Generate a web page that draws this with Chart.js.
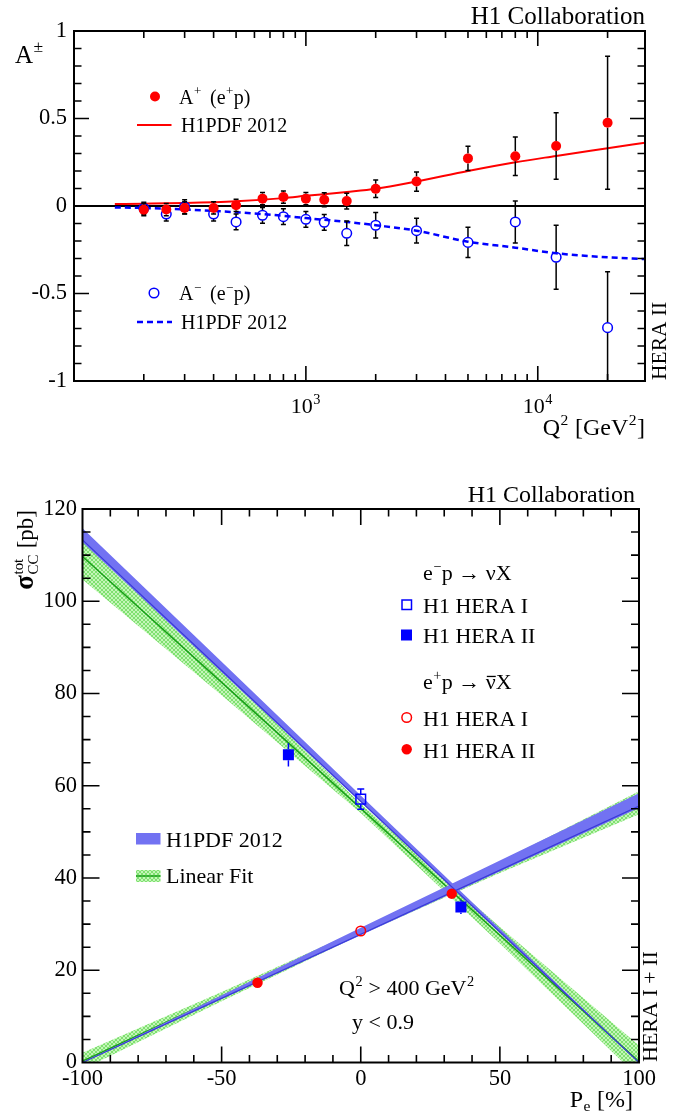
<!DOCTYPE html>
<html><head><meta charset="utf-8">
<script src="https://cdn.jsdelivr.net/npm/chart.js@4/dist/chart.umd.min.js"></script>
<style>
html,body{margin:0;padding:0;background:#fff;overflow:hidden;}
#w1{position:absolute;left:0;top:0;width:677px;height:460px;}
#w2{position:absolute;left:0;top:460px;width:677px;height:656px;}
</style></head><body>
<div id="w1"><canvas id="c1"></canvas></div>
<div id="w2"><canvas id="c2"></canvas></div>
<script>
// ---------- Top panel data: charge asymmetry A± vs Q² ----------
const Q2 = [200,250,300,400,500,650,800,1000,1200,1500,2000,3000,5000,8000,12000,20000];
const A_PLUS = [-0.021,-0.02,-0.011,-0.011,0.004,0.042,0.051,0.042,0.036,0.028,0.098,0.14,0.272,0.284,0.343,0.476];
const A_PLUS_ERR = [0.035,0.035,0.035,0.035,0.035,0.035,0.035,0.035,0.04,0.045,0.05,0.055,0.069,0.11,0.19,0.38];
const A_MINUS = [-0.013,-0.046,-0.004,-0.046,-0.091,-0.053,-0.061,-0.076,-0.093,-0.156,-0.11,-0.141,-0.208,-0.091,-0.293,-0.695];
const A_MINUS_ERR = [0.035,0.04,0.04,0.04,0.045,0.045,0.045,0.045,0.045,0.07,0.073,0.071,0.086,0.12,0.183,0.32];
const PDF_Q2 = [150,200,300,500,800,1000,1500,2000,3000,5000,8000,12000,20000,29000];
const PDF_PLUS = [0.011,0.013,0.017,0.027,0.045,0.058,0.08,0.098,0.14,0.2,0.25,0.286,0.33,0.362];
const PDF_MINUS = [-0.008,-0.011,-0.02,-0.036,-0.056,-0.069,-0.091,-0.11,-0.141,-0.204,-0.238,-0.27,-0.293,-0.303];
const X_LABEL_DECADES = [1000, 10000];

// ---------- Bottom panel data: sigma_CC^tot vs P_e ----------
const POL = [-100,-50,0,50,100];
const EM_PDF_LO = [112.8,84.6,56.4,28.2,0];
const EM_PDF_MID = [113.3,85.0,56.6,28.3,0];
const EM_PDF_HI = [115.8,86.9,57.9,29.0,0];
const EP_PDF_LO = [0,13.8,27.6,41.4,55.2];
const EP_PDF_MID = [0,13.9,27.8,41.7,55.6];
const EP_PDF_HI = [0,14.6,29.2,43.8,58.4];
const EM_FIT_LO = [104.7,79.6,54.1,25.8,-3.3];
const EM_FIT_MID = [109.7,82.4,55.1,27.6,0.2];
const EM_FIT_HI = [114.7,85.2,56.1,29.4,3.7];
const EP_FIT_LO = [-1.5,13.3,27.7,41.1,53.8];
const EP_FIT_MID = [0.3,14.3,28.3,42.3,56.3];
const EP_FIT_HI = [2.1,15.3,28.9,43.5,58.8];
const EM_H1_P = [0], EM_H1_S = [57.1], EM_H1_E = [2.2];
const EM_H2_P = [-26.0, 36.0], EM_H2_S = [66.7, 33.7], EM_H2_E = [2.5, 1.5];
const EP_H1_P = [0], EP_H1_S = [28.5], EP_H1_E = [0.6];
const EP_H2_P = [-37.1, 32.7], EP_H2_S = [17.3, 36.6], EP_H2_E = [0.7, 1.0];

const SERIF = '"Liberation Serif","Times New Roman",Times,serif';
function setFont(ctx, sz, bold){ ctx.font = (bold ? 'bold ' : '') + sz + 'px ' + SERIF; }
function segW(ctx, p, sz){
  const k = p[1] || 'n';
  if (k === 'n' || k === 'bar' || k === 'b'){ setFont(ctx, p[2] || sz, k === 'b'); return ctx.measureText(p[0]).width; }
  if (k === 'sup' || k === 'sub'){ setFont(ctx, sz*0.65); return ctx.measureText(p[0]).width + 1; }
  if (k === 'stack'){ setFont(ctx, sz*0.65); return Math.max(ctx.measureText(p[0]).width, ctx.measureText(p[2]).width) + 1; }
  return 0;
}
function drawRich(ctx, parts, x, y, sz, align){
  let w = 0; for (const p of parts) w += segW(ctx, p, sz);
  if (align === 'right') x -= w; else if (align === 'center') x -= w/2;
  ctx.textAlign = 'left'; ctx.textBaseline = 'alphabetic'; ctx.fillStyle = '#000';
  for (const p of parts){
    const k = p[1] || 'n'; const sw = segW(ctx, p, sz);
    if (k === 'n' || k === 'b') ctx.fillText(p[0], x, y);
    else if (k === 'bar'){ ctx.fillText(p[0], x, y); ctx.fillRect(x+1, y - sz*0.6, sw-1, 1.3); }
    else if (k === 'sup') ctx.fillText(p[0], x+0.5, y - sz*0.42);
    else if (k === 'sub') ctx.fillText(p[0], x+0.5, y + sz*0.18);
    else if (k === 'stack'){ ctx.fillText(p[0], x+0.5, y - sz*0.42); ctx.fillText(p[2], x+0.5, y + sz*0.22); }
    x += sw;
  }
}
function drawErr(chart, ds, color, gap, cap){
  const ctx = chart.ctx, xs = chart.scales.x, ys = chart.scales.y, a = chart.chartArea;
  ctx.save(); ctx.beginPath(); ctx.rect(a.left, a.top, a.right-a.left, a.bottom-a.top); ctx.clip();
  ctx.strokeStyle = color; ctx.lineWidth = 1.5;
  ds.data.forEach((d, i) => {
    const e = ds.err[i];
    const px = xs.getPixelForValue(d.x), py = ys.getPixelForValue(d.y);
    const pt = ys.getPixelForValue(d.y + e), pb = ys.getPixelForValue(d.y - e);
    ctx.beginPath();
    if (pt < py - gap){ ctx.moveTo(px, py - gap); ctx.lineTo(px, pt); }
    if (pb > py + gap){ ctx.moveTo(px, py + gap); ctx.lineTo(px, pb); }
    if (cap){ ctx.moveTo(px-cap, pt); ctx.lineTo(px+cap, pt); ctx.moveTo(px-cap, pb); ctx.lineTo(px+cap, pb); }
    ctx.stroke();
  });
  ctx.restore();
}
function drawFrameTicks(chart, isXTick, isXMajor, isYMajor, L){
  const ctx = chart.ctx, a = chart.chartArea, xs = chart.scales.x, ys = chart.scales.y;
  ctx.save(); ctx.strokeStyle = '#000'; ctx.lineWidth = 1.6;
  ctx.beginPath();
  for (const t of xs.ticks){
    if (!isXTick(t.value)) continue;
    const px = xs.getPixelForValue(t.value);
    if (px < a.left + 1 || px > a.right - 1) continue;
    const len = isXMajor(t.value) ? L.xMaj : L.xMin;
    ctx.moveTo(px, a.bottom); ctx.lineTo(px, a.bottom - len);
    ctx.moveTo(px, a.top); ctx.lineTo(px, a.top + len);
  }
  for (const t of ys.ticks){
    const py = ys.getPixelForValue(t.value);
    if (py < a.top + 1 || py > a.bottom - 1) continue;
    const len = isYMajor(t.value) ? L.yMaj : L.yMin;
    ctx.moveTo(a.left, py); ctx.lineTo(a.left + len, py);
    ctx.moveTo(a.right, py); ctx.lineTo(a.right - len, py);
  }
  ctx.stroke();
  ctx.lineWidth = 2;
  ctx.strokeRect(a.left, a.top, a.right - a.left, a.bottom - a.top);
  ctx.restore();
}
function isMult(v, m){ return Math.abs(v/m - Math.round(v/m)) < 1e-6; }
function isLogTick(v){ const e = Math.pow(10, Math.floor(Math.log10(v) + 1e-9)); return isMult(v, e); }

// ================= TOP CHART =================
const deco1 = {
  id: 'deco1',
  beforeDatasetsDraw(chart){
    const ctx = chart.ctx, a = chart.chartArea, y0 = chart.scales.y.getPixelForValue(0);
    ctx.save(); ctx.strokeStyle = '#000'; ctx.lineWidth = 2;
    ctx.beginPath(); ctx.moveTo(a.left, y0); ctx.lineTo(a.right, y0); ctx.stroke(); ctx.restore();
  },
  beforeDatasetDraw(chart, args){
    const ds = chart.data.datasets[args.index];
    if (ds.err) drawErr(chart, ds, '#000', 5, 2.5);
  },
  afterDraw(chart){
    const ctx = chart.ctx, xs = chart.scales.x;
    drawFrameTicks(chart, isLogTick, v => isMult(Math.log10(v), 1),
      v => isMult(v, 0.5), {xMaj: 15, xMin: 7, yMaj: 15, yMin: 7.5});
    for (const v of X_LABEL_DECADES){
      drawRich(ctx, [['10'], [String(Math.round(Math.log10(v))), 'sup']], xs.getPixelForValue(v), 413, 22, 'center');
    }
    drawRich(ctx, [['H1 Collaboration']], 645, 24, 25, 'right');
    drawRich(ctx, [['A', 'n', 25], ['±', 'sup']], 15, 63, 27, 'left');
    drawRich(ctx, [['Q'], ['2', 'sup'], [' [GeV'], ['2', 'sup'], [']']], 645, 435, 24, 'right');
    ctx.save(); ctx.translate(666, 380); ctx.rotate(-Math.PI/2);
    drawRich(ctx, [['HERA II']], 0, 0, 21.5, 'left'); ctx.restore();
    // legend
    ctx.save();
    ctx.fillStyle = '#ff0000'; ctx.beginPath(); ctx.arc(155, 96.5, 5, 0, 2*Math.PI); ctx.fill();
    ctx.strokeStyle = '#ff0000'; ctx.lineWidth = 2;
    ctx.beginPath(); ctx.moveTo(137, 125); ctx.lineTo(171.5, 125); ctx.stroke();
    ctx.strokeStyle = '#0000ff'; ctx.lineWidth = 1.5;
    ctx.beginPath(); ctx.arc(154, 293, 4.8, 0, 2*Math.PI); ctx.stroke();
    ctx.lineWidth = 2.5; ctx.setLineDash([6, 4]);
    ctx.beginPath(); ctx.moveTo(137, 322); ctx.lineTo(172, 322); ctx.stroke();
    ctx.restore();
    drawRich(ctx, [['A'], ['+', 'sup']], 179, 103.5, 20, 'left');
    drawRich(ctx, [['(e'], ['+', 'sup'], ['p)']], 210, 103.5, 20, 'left');
    drawRich(ctx, [['H1PDF 2012']], 181, 132, 20, 'left');
    drawRich(ctx, [['A'], ['\u2212', 'sup']], 179, 300, 20, 'left');
    drawRich(ctx, [['(e'], ['\u2212', 'sup'], ['p)']], 210, 300, 20, 'left');
    drawRich(ctx, [['H1PDF 2012']], 181, 329, 20, 'left');
  }
};

new Chart(document.getElementById('c1'), {
  type: 'scatter',
  data: { datasets: [
    { label: 'A+ (e+p)', data: Q2.map((q, i) => ({x: q, y: A_PLUS[i]})), err: A_PLUS_ERR,
      pointRadius: 5, pointBackgroundColor: '#ff0000', pointBorderColor: '#ff0000', pointBorderWidth: 0, order: 0 },
    { label: 'A- (e-p)', data: Q2.map((q, i) => ({x: q, y: A_MINUS[i]})), err: A_MINUS_ERR,
      pointRadius: 4.8, pointBackgroundColor: 'rgba(0,0,0,0)', pointBorderColor: '#0000ff', pointBorderWidth: 1.5, order: 1 },
    { type: 'line', label: 'H1PDF 2012 +', data: PDF_Q2.map((q, i) => ({x: q, y: PDF_PLUS[i]})),
      borderColor: '#ff0000', borderWidth: 2, pointRadius: 0, fill: false, cubicInterpolationMode: 'monotone', order: 5 },
    { type: 'line', label: 'H1PDF 2012 -', data: PDF_Q2.map((q, i) => ({x: q, y: PDF_MINUS[i]})),
      borderColor: '#0000ff', borderWidth: 2.5, borderDash: [6, 4], pointRadius: 0, fill: false, cubicInterpolationMode: 'monotone', order: 6 }
  ]},
  options: {
    responsive: true, maintainAspectRatio: false, animation: false, devicePixelRatio: 1, events: [],
    layout: { padding: { top: 31, right: 32, left: 0, bottom: 0 } },
    plugins: { legend: { display: false }, tooltip: { enabled: false } },
    scales: {
      x: { type: 'logarithmic', min: 100, max: 29000,
        grid: { display: false, drawTicks: false }, border: { display: false },
        ticks: { autoSkip: false, maxRotation: 0, callback: () => '' },
        afterFit: s => { s.height = 79; } },
      y: { type: 'linear', min: -1, max: 1,
        grid: { display: false, drawTicks: false }, border: { display: false },
        ticks: { stepSize: 0.1, autoSkip: false, padding: 7, color: '#000', font: { family: SERIF, size: 22.5 },
          callback: v => isMult(v, 0.5) ? String(Math.round(v * 10) / 10) : '' },
        afterFit: s => { s.width = 74; } }
    }
  },
  plugins: [deco1]
});

// ================= BOTTOM CHART =================
function greenPattern(){
  const c = document.createElement('canvas'); c.width = 4; c.height = 4;
  const g = c.getContext('2d');
  g.fillStyle = '#c4f6b9'; g.fillRect(0, 0, 4, 4);
  g.fillStyle = '#7fe070';
  for (let i = 0; i < 4; i++){ g.fillRect(i, i, 1, 1); g.fillRect(3 - i, i, 1, 1); }
  return g.createPattern(c, 'repeat');
}
const GREEN_FILL = greenPattern();
const BLUE_BAND = '#7272f2';
const pts = (xs, ys) => xs.map((x, i) => ({x: x, y: ys[i]}));
const bandLine = (lbl, ys, order, fill, bg) => ({ type: 'line', label: lbl, data: pts(POL, ys), borderWidth: 0,
  borderColor: 'rgba(0,0,0,0)', pointRadius: 0, fill: fill, backgroundColor: bg || 'rgba(0,0,0,0)', order: order, clip: 0 });
const centerLine = (lbl, ys, color, w, order) => ({ type: 'line', label: lbl, data: pts(POL, ys), borderWidth: w,
  borderColor: color, pointRadius: 0, fill: false, order: order, clip: 0 });

const deco2 = {
  id: 'deco2',
  beforeDatasetDraw(chart, args){
    const ds = chart.data.datasets[args.index];
    if (ds.err) drawErr(chart, ds, ds.pointBorderColor, ds.errGap, ds.errCap);
  },
  afterDraw(chart){
    const ctx = chart.ctx;
    drawFrameTicks(chart, v => true, v => isMult(v, 50), v => isMult(v, 20), {xMaj: 16, xMin: 7.5, yMaj: 17, yMin: 8});
    ctx.save(); ctx.translate(0, -460);
    drawRich(ctx, [['H1 Collaboration']], 635, 501.5, 24, 'right');
    drawRich(ctx, [['P'], ['e', 'sub'], [' [%]']], 633, 1107, 24, 'right');
    ctx.save(); ctx.translate(657, 1062); ctx.rotate(-Math.PI/2);
    drawRich(ctx, [['HERA I + II']], 0, 0, 22, 'left'); ctx.restore();
    ctx.save(); ctx.translate(33, 510); ctx.rotate(-Math.PI/2);
    drawRich(ctx, [['σ', 'b', 27], ['tot', 'stack', 'CC'], [' [pb]']], 0, 0, 23, 'right'); ctx.restore();
    // legend entries
    drawRich(ctx, [['e'], ['\u2212', 'sup'], ['p \u2192 \u03bdX']], 423, 580, 22, 'left');
    drawRich(ctx, [['H1 HERA I']], 423, 612.5, 22, 'left');
    drawRich(ctx, [['H1 HERA II']], 423, 643, 22, 'left');
    drawRich(ctx, [['e'], ['+', 'sup'], ['p \u2192 '], ['\u03bd', 'bar'], ['X']], 423, 689, 22, 'left');
    drawRich(ctx, [['H1 HERA I']], 423, 726, 22, 'left');
    drawRich(ctx, [['H1 HERA II']], 423, 758, 22, 'left');
    drawRich(ctx, [['H1PDF 2012']], 166, 846.5, 22, 'left');
    drawRich(ctx, [['Linear Fit']], 166, 883, 22, 'left');
    drawRich(ctx, [['Q'], ['2', 'sup'], [' > 400 GeV'], ['2', 'sup']], 339, 995, 22, 'left');
    drawRich(ctx, [['y < 0.9']], 352, 1029, 22, 'left');
    // legend markers
    ctx.lineWidth = 1.5;
    ctx.strokeStyle = '#0000ff'; ctx.strokeRect(402, 600, 9.5, 9.5);
    ctx.fillStyle = '#0000ff'; ctx.fillRect(401, 629.5, 11, 11);
    ctx.strokeStyle = '#ff0000'; ctx.beginPath(); ctx.arc(406.7, 717.5, 4.8, 0, 2*Math.PI); ctx.stroke();
    ctx.fillStyle = '#ff0000'; ctx.beginPath(); ctx.arc(406.7, 749.3, 5.2, 0, 2*Math.PI); ctx.fill();
    ctx.fillStyle = BLUE_BAND; ctx.fillRect(136, 833, 24.5, 11.5);
    ctx.fillStyle = GREEN_FILL; ctx.fillRect(136, 870, 24.5, 12);
    ctx.strokeStyle = '#19a019'; ctx.beginPath(); ctx.moveTo(136, 876); ctx.lineTo(160.5, 876); ctx.stroke();
    ctx.restore();
  }
};

new Chart(document.getElementById('c2'), {
  type: 'scatter',
  data: { datasets: [
    /*0*/ { label: 'e+p H1 HERA II', data: pts(EP_H2_P, EP_H2_S), err: EP_H2_E, errGap: 5, errCap: 0,
      pointStyle: 'circle', pointRadius: 5.2, pointBackgroundColor: '#ff0000', pointBorderColor: '#ff0000', pointBorderWidth: 0, order: 0 },
    /*1*/ { label: 'e+p H1 HERA I', data: pts(EP_H1_P, EP_H1_S), err: EP_H1_E, errGap: 5, errCap: 0,
      pointStyle: 'circle', pointRadius: 4.8, pointBackgroundColor: 'rgba(0,0,0,0)', pointBorderColor: '#ff0000', pointBorderWidth: 1.5, order: 0 },
    /*2*/ { label: 'e-p H1 HERA II', data: pts(EM_H2_P, EM_H2_S), err: EM_H2_E, errGap: 5.5, errCap: 0,
      pointStyle: 'rect', pointRadius: 7.8, pointBackgroundColor: '#0000ff', pointBorderColor: '#0000ff', pointBorderWidth: 0, order: 0 },
    /*3*/ { label: 'e-p H1 HERA I', data: pts(EM_H1_P, EM_H1_S), err: EM_H1_E, errGap: 5, errCap: 3.5,
      pointStyle: 'rect', pointRadius: 6.8, pointBackgroundColor: 'rgba(0,0,0,0)', pointBorderColor: '#0000ff', pointBorderWidth: 1.5, order: 0 },
    /*4*/ centerLine('e-p H1PDF', EM_PDF_MID, '#3a3ad8', 1.2, 10),
    /*5*/ bandLine('e-p H1PDF lo', EM_PDF_LO, 12, false),
    /*6*/ bandLine('e-p H1PDF hi', EM_PDF_HI, 11, 5, BLUE_BAND),
    /*7*/ centerLine('e+p H1PDF', EP_PDF_MID, '#3a3ad8', 1.2, 10),
    /*8*/ bandLine('e+p H1PDF lo', EP_PDF_LO, 12, false),
    /*9*/ bandLine('e+p H1PDF hi', EP_PDF_HI, 11, 8, BLUE_BAND),
    /*10*/ centerLine('e-p fit', EM_FIT_MID, '#19a019', 1.5, 20),
    /*11*/ bandLine('e-p fit lo', EM_FIT_LO, 22, false),
    /*12*/ bandLine('e-p fit hi', EM_FIT_HI, 21, 11, GREEN_FILL),
    /*13*/ centerLine('e+p fit', EP_FIT_MID, '#19a019', 1.5, 20),
    /*14*/ bandLine('e+p fit lo', EP_FIT_LO, 22, false),
    /*15*/ bandLine('e+p fit hi', EP_FIT_HI, 21, 14, GREEN_FILL)
  ]},
  options: {
    responsive: true, maintainAspectRatio: false, animation: false, devicePixelRatio: 1, events: [],
    layout: { padding: { top: 49, right: 38, left: 0, bottom: 0 } },
    plugins: { legend: { display: false }, tooltip: { enabled: false } },
    scales: {
      x: { type: 'linear', min: -100, max: 100,
        grid: { display: false, drawTicks: false }, border: { display: false },
        ticks: { stepSize: 10, autoSkip: false, maxRotation: 0, padding: 3, color: '#000', font: { family: SERIF, size: 22.5 },
          callback: v => isMult(v, 50) ? String(v) : '' },
        afterFit: s => { s.height = 53.5; } },
      y: { type: 'linear', min: 0, max: 120,
        grid: { display: false, drawTicks: false }, border: { display: false },
        ticks: { stepSize: 5, autoSkip: false, padding: 5.5, color: '#000', font: { family: SERIF, size: 22.5 },
          callback: v => isMult(v, 20) ? String(v) : '' },
        afterFit: s => { s.width = 82.5; } }
    }
  },
  plugins: [deco2]
});
</script></body></html>
